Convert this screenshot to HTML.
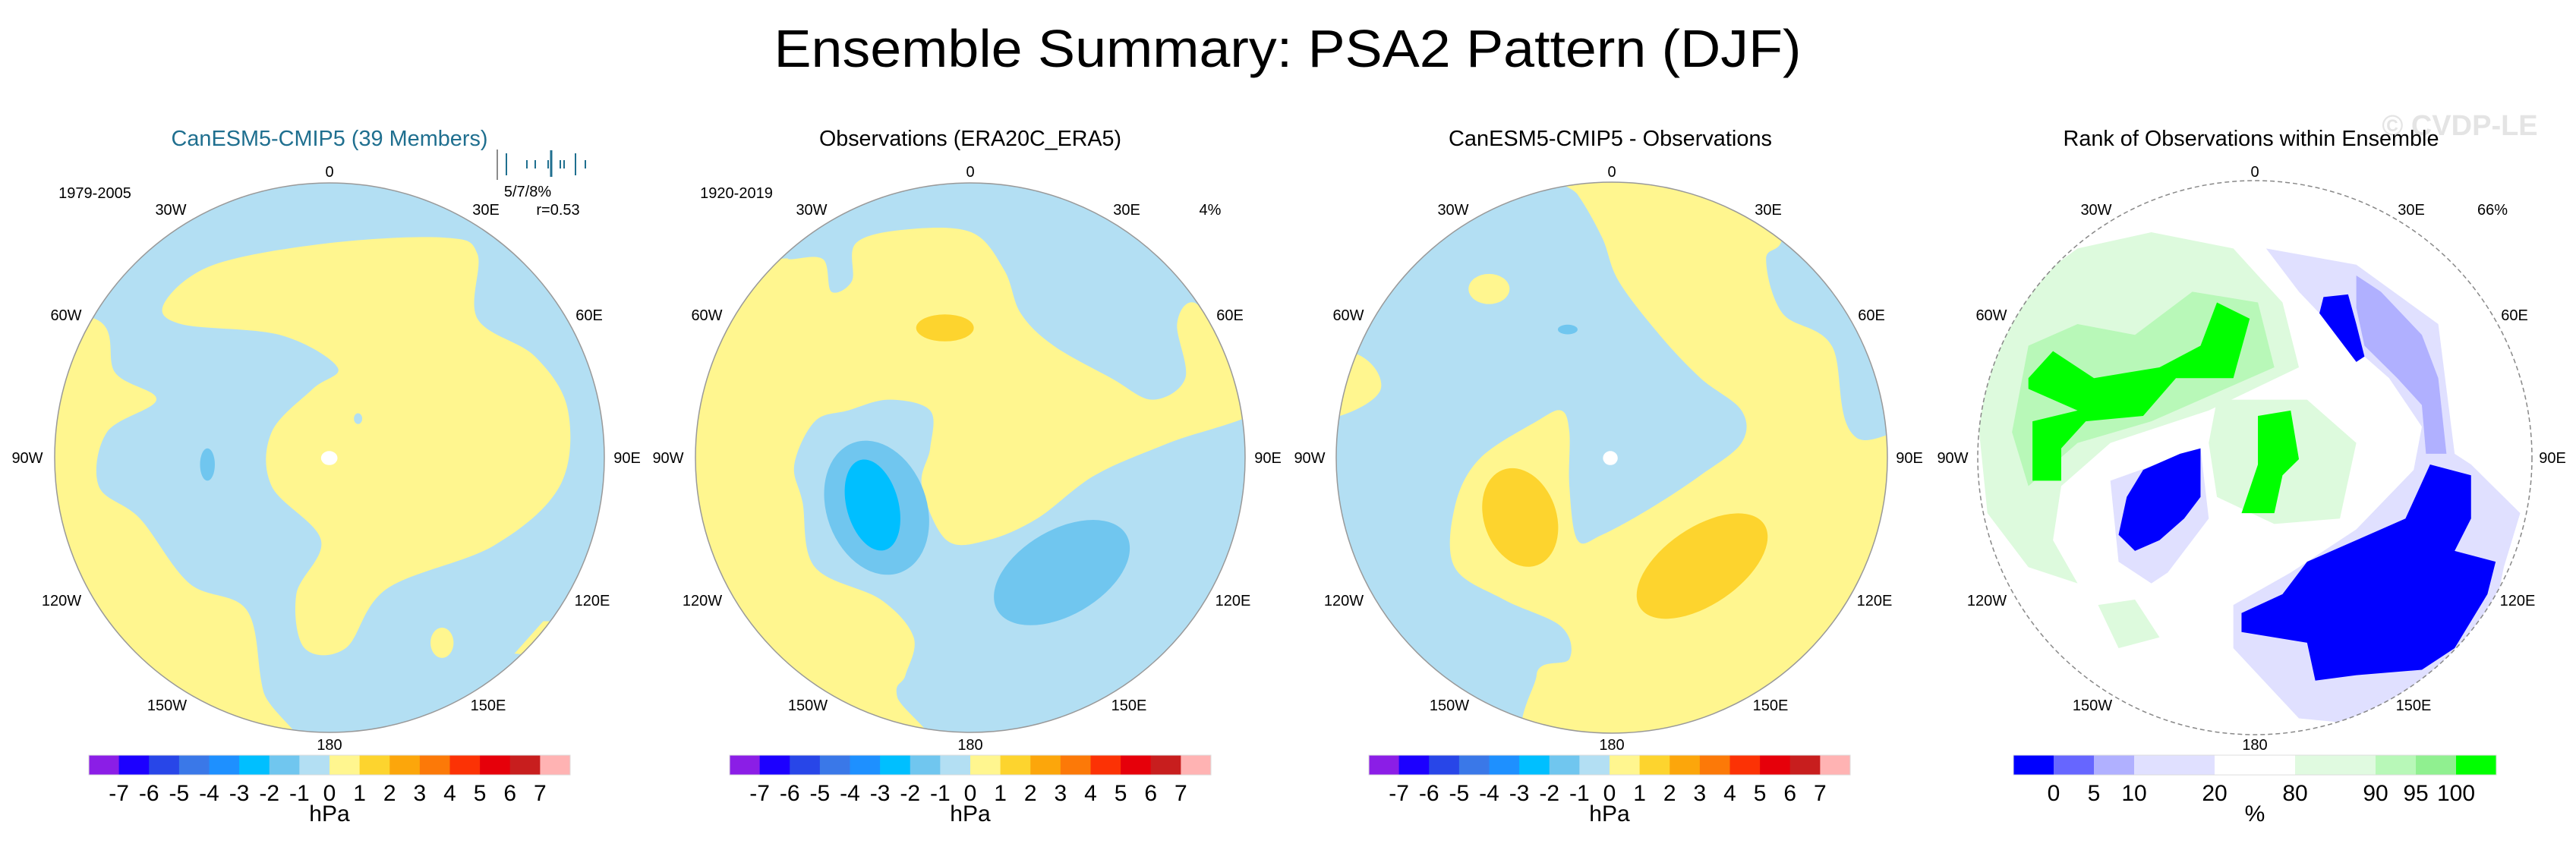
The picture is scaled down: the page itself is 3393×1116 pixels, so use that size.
<!DOCTYPE html>
<html><head><meta charset="utf-8"><style>
html,body{margin:0;padding:0;background:#fff}
svg{display:block}
text{font-family:"Liberation Sans",sans-serif}
</style></head><body>
<svg id="fig" width="3393" height="1116" viewBox="0 0 3393 1116" xmlns="http://www.w3.org/2000/svg">
<defs>
<clipPath id="c1"><circle cx="434" cy="603" r="362"/></clipPath>
<clipPath id="c2"><circle cx="1278" cy="603" r="362"/></clipPath>
<clipPath id="c3"><circle cx="2123" cy="603" r="363"/></clipPath>
<clipPath id="c4"><circle cx="2970" cy="603" r="365"/></clipPath>
</defs>
<text x="1696" y="88" font-size="70" text-anchor="middle" textLength="1353" lengthAdjust="spacingAndGlyphs">Ensemble Summary: PSA2 Pattern (DJF)</text>
<text x="3240" y="178" font-size="38" font-weight="bold" fill="#e4e4e4" text-anchor="middle">© CVDP-LE</text>

<!-- Panel 1 -->
<g>
<text x="434" y="192" font-size="29" fill="#1f6f8f" text-anchor="middle" textLength="417" lengthAdjust="spacingAndGlyphs">CanESM5-CMIP5 (39 Members)</text>
<g clip-path="url(#c1)">
<circle cx="434" cy="603" r="362" fill="#b3dff3"/>
<g transform="scale(1.0842,0.7117)">
<polygon class="smooth" fill="#fff68f" points="200,560 260,490 400,450 540,440 580,470 580,590 650,660 690,760 680,900 600,1010 470,1090 420,1200 370,1200 360,1100 390,1000 330,900 330,800 380,720 410,680 340,620 220,600"/>
<polygon class="smooth" fill="#fff68f" points="-40,580 115,590 140,690 190,740 130,800 120,900 170,960 230,1080 300,1130 320,1280 350,1420 -40,1420"/>
<ellipse cx="537" cy="1190" rx="14" ry="28" fill="#fff68f"/>
<polygon fill="#fff68f" points="625,1210 660,1150 700,1150 700,1220"/>
<ellipse cx="252" cy="860" rx="9" ry="30" fill="#70c6ef"/>
<ellipse cx="435" cy="775" rx="5" ry="10" fill="#b3dff3"/>
<ellipse cx="400" cy="848" rx="10" ry="13" fill="#fff"/>
</g>
</g>
<circle cx="434" cy="603" r="362" fill="none" stroke="#999" stroke-width="1.5"/>
</g>

<!-- Panel 2 -->
<g>
<text x="1278" y="192" font-size="29" fill="#000" text-anchor="middle" textLength="398" lengthAdjust="spacingAndGlyphs">Observations (ERA20C_ERA5)</text>
<g clip-path="url(#c2)">
<circle cx="1278" cy="603" r="362" fill="#b3dff3"/>
<g transform="scale(1.0842,0.7117)">
<polygon class="smooth" fill="#fff68f" points="1040,450 1100,425 1180,430 1220,500 1240,580 1280,640 1350,700 1400,740 1440,700 1430,600 1450,560 1490,620 1540,640 1540,750 1420,820 1330,880 1260,960 1200,1000 1150,1000 1120,900 1130,830 1130,760 1080,740 1030,760 990,780 965,860 975,930 990,1050 1070,1110 1110,1180 1100,1250 1090,1290 1125,1420 780,1420 780,500 940,480 960,480 1000,480 1010,540 1035,520"/>
<ellipse cx="1065" cy="940" rx="62" ry="125" transform="rotate(-8 1065 940)" fill="#70c6ef"/>
<ellipse cx="1060" cy="935" rx="32" ry="85" transform="rotate(-8 1060 935)" fill="#00bfff"/>
<ellipse cx="1290" cy="1060" rx="65" ry="110" transform="rotate(35 1290 1060)" fill="#70c6ef"/>
<ellipse cx="1148" cy="607" rx="35" ry="25" fill="#fdd42e"/>
</g>
</g>
<circle cx="1278" cy="603" r="362" fill="none" stroke="#999" stroke-width="1.5"/>
</g>

<!-- Panel 3 -->
<g>
<text x="2121" y="192" font-size="29" fill="#000" text-anchor="middle" textLength="426" lengthAdjust="spacingAndGlyphs">CanESM5-CMIP5 - Observations</text>
<g clip-path="url(#c3)">
<circle cx="2123" cy="603" r="363" fill="#b3dff3"/>
<g transform="translate(1700,0) scale(1.0797,0.7117)">
<polygon class="smooth" fill="#fff68f" points="320,310 350,360 380,440 400,520 450,620 500,700 550,760 550,820 500,880 440,940 380,990 350,1000 340,900 340,800 330,760 300,780 230,850 200,940 200,1050 260,1110 330,1160 340,1220 300,1250 330,1420 820,1420 820,820 690,810 660,640 600,580 580,480 600,440 600,300"/>
<ellipse cx="242" cy="535" rx="25" ry="28" fill="#fff68f"/>
<polygon class="smooth" fill="#fff68f" points="-20,640 80,655 110,720 60,770 -20,780"/>
<ellipse cx="338" cy="610" rx="12" ry="9" fill="#70c6ef"/>
<ellipse cx="280" cy="958" rx="45" ry="92" transform="rotate(-8 280 958)" fill="#fdd42e"/>
<ellipse cx="502" cy="1048" rx="58" ry="112" transform="rotate(35 502 1048)" fill="#fdd42e"/>
<ellipse cx="390" cy="848" rx="9" ry="13" fill="#fff"/>
</g>
</g>
<circle cx="2123" cy="603" r="363" fill="none" stroke="#999" stroke-width="1.5"/>
</g>

<!-- Panel 4 -->
<g>
<text x="2965" y="192" font-size="29" fill="#000" text-anchor="middle" textLength="495" lengthAdjust="spacingAndGlyphs">Rank of Observations within Ensemble</text>
<g clip-path="url(#c4)">
<circle cx="2970" cy="603" r="365" fill="#fff"/>
<g transform="translate(1700,0) scale(1.0797,0.7117)">
<polygon fill="#ddfadd" points="840,660 870,560 960,460 1050,430 1150,460 1210,560 1230,680 1120,760 1000,820 940,900 930,1000 960,1080 900,1050 850,950 840,800"/>
<polygon fill="#ddfadd" points="1130,740 1240,740 1300,820 1280,960 1200,970 1130,920 1120,820"/>
<polygon fill="#ddfadd" points="985,1120 1030,1110 1060,1180 1010,1200"/>
<polygon fill="#b8f8b8" points="900,640 960,600 1030,620 1100,540 1180,560 1200,680 1050,780 960,820 900,900 880,800"/>
<polygon fill="#00ff00" points="900,700 930,650 980,700 1060,680 1110,640 1130,560 1170,590 1150,700 1080,700 1040,770 970,780 940,830 940,890 905,890 905,780 960,760 900,720"/>
<polygon fill="#00ff00" points="1180,770 1220,760 1230,850 1210,880 1200,950 1160,950 1180,860"/>
<polygon fill="#e0e0ff" points="1190,460 1300,490 1400,600 1420,840 1440,860 1500,950 1480,1050 1460,1200 1400,1280 1300,1340 1230,1330 1150,1200 1150,1120 1220,1060 1300,980 1370,870 1380,790 1340,700 1280,620 1230,540"/>
<polygon fill="#e0e0ff" points="1000,890 1110,830 1120,960 1070,1060 1050,1080 1010,1040"/>
<polygon fill="#b0b0ff" points="1300,510 1330,540 1380,620 1400,700 1410,840 1385,840 1380,750 1350,700 1310,640 1300,570"/>
<polygon fill="#0000ff" points="1260,550 1290,545 1300,600 1310,660 1300,670 1270,610 1255,580"/>
<polygon fill="#0000ff" points="1040,870 1085,840 1110,830 1110,920 1090,960 1060,1000 1030,1020 1010,990 1020,920"/>
<polygon fill="#0000ff" points="1390,860 1440,880 1440,960 1420,1020 1470,1040 1460,1100 1420,1200 1380,1240 1300,1250 1250,1260 1240,1190 1160,1170 1160,1135 1210,1100 1240,1040 1300,1000 1360,960"/>
</g>
</g>
<circle cx="2970" cy="603" r="365" fill="none" stroke="#888" stroke-width="1.5" stroke-dasharray="6 4"/>
</g>

<!-- annotations -->
<g font-size="20" fill="#000">
<text x="125" y="261" text-anchor="middle">1979-2005</text>
<text x="970" y="261" text-anchor="middle">1920-2019</text>
<text x="695" y="259" text-anchor="middle">5/7/8%</text>
<text x="735" y="283" text-anchor="middle">r=0.53</text>
<text x="1594" y="283" text-anchor="middle">4%</text>
<text x="3283" y="283" text-anchor="middle">66%</text>
</g>
<g id="ticks"></g>
<g id="lonlabels" font-size="20"></g>
<g id="cbars"></g>
</svg>
<script>
const NS='http://www.w3.org/2000/svg';
const centers=[434,1278,2123,2970];
const lonLabels=['0','30W','30E','60W','60E','90W','90E','120W','120E','150W','150E','180'];
const lonOffsets=[[0,226],[-209,276],[206,276],[-347,415],[342,415],[-398,603],[392,603],[-353,791],[346,791],[-214,929],[209,929],[0,981]];
const hpaColors=['#8b1ee6','#1c00ff','#2846e8','#3a78e8','#1e90ff','#00bfff','#70c6ef','#b3dff3','#fff68f','#fdd42e','#fca60b','#fc7908','#fc3205','#e6000a','#c81e1e','#ffb3b3'];
const hpaLabels=['-7','-6','-5','-4','-3','-2','-1','0','1','2','3','4','5','6','7'];
const rankColors=['#0000ff','#6666ff','#b0b0ff','#e0e0ff','#e0e0ff','#ffffff','#ffffff','#e0fae0','#e0fae0','#b8f8b8','#90f090','#00ff00'];
const rankLabels=['0','5','10','','20','','80','','90','95','100'];
const tickX=[667,694,705,722,726,738,743,758,771];
const tickTall=[1,0,0,0,2,0,0,1,0];

function mk(tag,attrs,parent){const e=document.createElementNS(NS,tag);for(const k in attrs)e.setAttribute(k,attrs[k]);parent.appendChild(e);return e;}

// smooth contour polygons (closed Catmull-Rom)
document.querySelectorAll('polygon.smooth').forEach(pg=>{
  const p=pg.getAttribute('points').trim().split(/\s+/).map(s=>s.split(',').map(Number));
  const n=p.length;let d='M'+p[0][0]+','+p[0][1];
  for(let i=0;i<n;i++){
    const p0=p[(i-1+n)%n],p1=p[i],p2=p[(i+1)%n],p3=p[(i+2)%n];
    const c1=[p1[0]+(p2[0]-p0[0])/6,p1[1]+(p2[1]-p0[1])/6];
    const c2=[p2[0]-(p3[0]-p1[0])/6,p2[1]-(p3[1]-p1[1])/6];
    d+='C'+c1.join(',')+' '+c2.join(',')+' '+p2.join(',');
  }
  const path=mk('path',{d:d+'Z',fill:pg.getAttribute('fill')},pg.parentNode);
  pg.parentNode.insertBefore(path,pg);
  
  
  pg.remove();
});

const tg=document.getElementById('ticks');
let gl=mk('line',{x1:655,y1:197,x2:655,y2:237,stroke:'#666','stroke-width':1.5},tg);


tickX.forEach((x,i)=>{
  const t=tickTall[i];
  const y1=t==2?198:(t==1?202:211), y2=t==2?233:(t==1?231:222);
  const l=mk('line',{x1:x,y1:y1,x2:x,y2:y2,stroke:'#1f6f8f','stroke-width':t==2?3:2},tg);
  
  
});

const lg=document.getElementById('lonlabels');
centers.forEach(c=>{
  lonLabels.forEach((s,i)=>{
    const t=mk('text',{x:c+lonOffsets[i][0],y:lonOffsets[i][1]+7,'text-anchor':'middle'},lg);
    t.textContent=s;
    
    
  });
});

const cg=document.getElementById('cbars');
function colorbar(cx,colors,labels,unit,half){
  const w=2*half/colors.length, x0=cx-half;
  const g=mk('g',{},cg);
  
  
  colors.forEach((col,i)=>{
    const r=mk('rect',{x:x0+i*w,y:995,width:w+0.5,height:26,fill:col},g);
    
    
  });
  mk('rect',{x:x0,y:995,width:2*half,height:26,fill:'none',stroke:'#ddd','stroke-width':1},g);
  labels.forEach((s,i)=>{
    if(!s)return;
    const t=mk('text',{x:x0+(i+1)*w,y:1055,'font-size':30,'text-anchor':'middle'},g);
    t.textContent=s;
    
    
  });
  const u=mk('text',{x:cx,y:1082,'font-size':30,'text-anchor':'middle'},g);
  u.textContent=unit;
  
  
}
colorbar(434,hpaColors,hpaLabels,'hPa',317);
colorbar(1278,hpaColors,hpaLabels,'hPa',317);
colorbar(2120,hpaColors,hpaLabels,'hPa',317);
colorbar(2970,rankColors,rankLabels,'%',318);
</script>
</body></html>
